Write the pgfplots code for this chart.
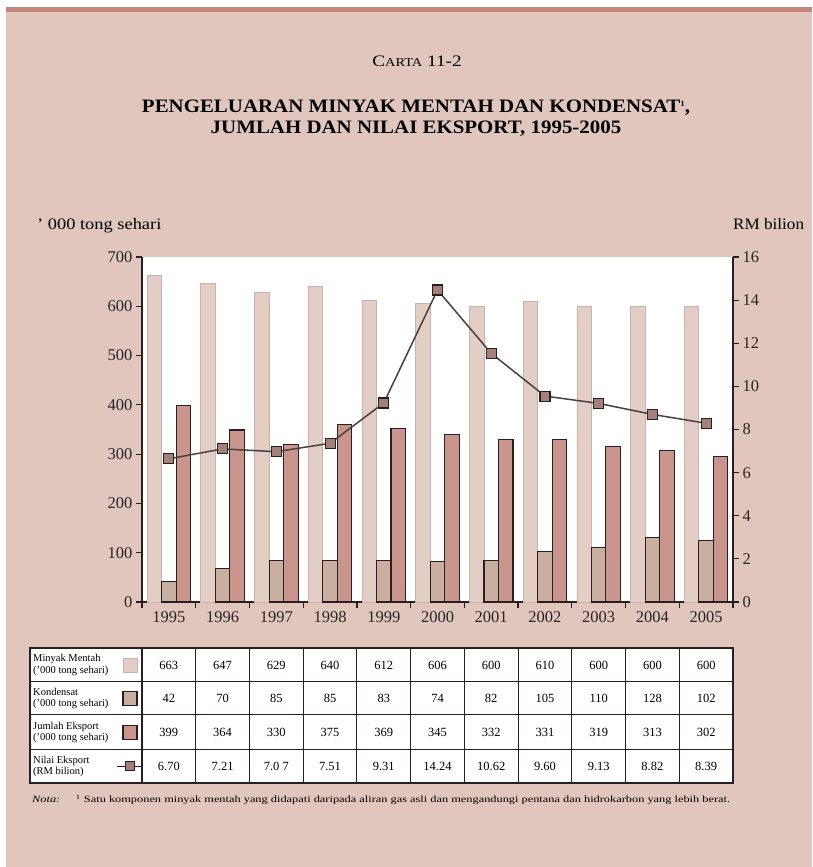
\documentclass[border=0pt]{standalone}
\usepackage{pgfplots}
\pgfplotsset{compat=1.18}
\usepackage{fontspec}
\setmainfont{Liberation Serif}
\definecolor{pagebg}{HTML}{E1C6BE}
\definecolor{stripc}{HTML}{C4877B}
\definecolor{lightbar}{HTML}{E3CEC6}
\definecolor{lightedge}{HTML}{CDB0A8}
\definecolor{kond}{HTML}{C8AF9F}
\definecolor{expc}{HTML}{C9958C}
\definecolor{markc}{HTML}{A57F79}
\definecolor{darkedge}{HTML}{2A1E1E}
\definecolor{linec}{HTML}{4A4040}
\begin{document}
\begin{tikzpicture}[x=1pt,y=1pt]
% page
\fill[white] (0,0) rectangle (812,867);
\fill[pagebg] (6,0) rectangle (812,860);
\fill[stripc] (6,855) rectangle (812,860);
% titles
\node[anchor=base, font=\fontsize{16}{18}\selectfont] at (417,800) {\scalebox{1.2}[1]{C{\fontsize{12}{13}\selectfont ARTA} 11-2}};
\node[anchor=base, font=\fontsize{19}{21}\selectfont\bfseries] at (416,754) {\scalebox{1.1}[1]{PENGELUARAN MINYAK MENTAH DAN KONDENSAT{\fontsize{8}{9}\selectfont\raisebox{6pt}{1}},}};
\node[anchor=base, font=\fontsize{19}{21}\selectfont\bfseries] at (416,733) {\scalebox{1.1}[1]{JUMLAH DAN NILAI EKSPORT, 1995-2005}};
% axis labels
\node[anchor=base west, font=\fontsize{16}{18}\selectfont, inner sep=0pt] at (37,637) {\scalebox{1.15}[1]{' 000 tong sehari}};
\node[anchor=base west, font=\fontsize{16}{18}\selectfont, inner sep=0pt] at (733,637) {\scalebox{1.07}[1]{RM bilion}};

\begin{axis}[at={(142pt,265pt)}, anchor=south west, width=591pt, height=345pt, scale only axis,
  xmin=-0.5, xmax=10.5, ymin=0, ymax=700,
  axis x line*=bottom, axis y line*=left,
  axis line style={darkedge, line width=1.2pt},
  axis background/.style={fill=white},
  xtick={0,...,10}, xticklabels={1995,1996,1997,1998,1999,2000,2001,2002,2003,2004,2005},
  major x tick style={draw=none},
  minor xtick={-0.5,0.5,...,10.5},
  ytick={0,100,...,700},
  tick align=outside, major tick length=6pt, minor tick length=6pt,
  tick style={darkedge, line width=1.2pt},
  /pgf/number format/assume math mode=true,
  tick label style={font=\fontsize{16.5}{18}\selectfont, text=black!85},
  clip=false]
\addplot[ybar, bar width=14.5pt, bar shift=-14.5pt, fill=lightbar, draw=lightedge, line width=0.8pt]
  coordinates {(0,663) (1,647) (2,629) (3,640) (4,612) (5,606) (6,600) (7,610) (8,600) (9,600) (10,600)};
\addplot[ybar, bar width=14.5pt, bar shift=0pt, fill=kond, draw=darkedge, line width=1.1pt]
  coordinates {(0,42) (1,68) (2,85) (3,85) (4,85) (5,82) (6,85) (7,102) (8,110) (9,130) (10,125)};
\addplot[ybar, bar width=14.5pt, bar shift=14.5pt, fill=expc, draw=darkedge, line width=1.1pt]
  coordinates {(0,398) (1,349) (2,320) (3,361) (4,352) (5,340) (6,329) (7,329) (8,316) (9,308) (10,296)};
\end{axis}

\begin{axis}[at={(142pt,265pt)}, anchor=south west, width=591pt, height=345pt, scale only axis,
  xmin=-0.5, xmax=10.5, ymin=0, ymax=16,
  axis x line=none, axis y line*=right,
  axis line style={darkedge, line width=1.2pt},
  ytick={0,2,...,16},
  tick align=outside, major tick length=6pt,
  tick style={darkedge, line width=1.2pt},
  /pgf/number format/assume math mode=true,
  tick label style={font=\fontsize{16.5}{18}\selectfont, text=black!85},
  clip=false]
\addplot[linec, line width=1.5pt, mark=square*, mark size=5pt, mark options={fill=markc, draw=darkedge, line width=1.1pt}]
  coordinates {(0,6.64) (1,7.10) (2,6.97) (3,7.36) (4,9.23) (5,14.47) (6,11.53) (7,9.55) (8,9.21) (9,8.70) (10,8.29)};
\end{axis}

% data table
\fill[white] (30,84) rectangle (733,219);
\foreach \yy in {185,152,117} { \draw[darkedge, line width=1pt] (30,\yy) -- (733,\yy); }
\foreach \k in {1,...,10} { \draw[darkedge, line width=1pt] ({142+\k*591/11},84) -- ({142+\k*591/11},219); }
\draw[darkedge, line width=1.6pt] (142,84) -- (142,219);
\draw[darkedge, line width=1.6pt] (30,84) rectangle (733,219);

\foreach \v [count=\i from 0] in {663,647,629,640,612,606,600,610,600,600,600}
  { \node[font=\fontsize{12.5}{13}\selectfont] at ({142+(\i+0.5)*591/11},202) {\v}; }
\foreach \v [count=\i from 0] in {42,70,85,85,83,74,82,105,110,128,102}
  { \node[font=\fontsize{12.5}{13}\selectfont] at ({142+(\i+0.5)*591/11},168.5) {\v}; }
\foreach \v [count=\i from 0] in {399,364,330,375,369,345,332,331,319,313,302}
  { \node[font=\fontsize{12.5}{13}\selectfont] at ({142+(\i+0.5)*591/11},134.5) {\v}; }
\foreach \v [count=\i from 0] in {6.70,7.21,7.0 7,7.51,9.31,14.24,10.62,9.60,9.13,8.82,8.39}
  { \node[font=\fontsize{12.5}{13}\selectfont] at ({142+(\i+0.5)*591/11},100.5) {\v}; }

\node[anchor=west, align=left, inner sep=0pt, font=\fontsize{10.5}{11.5}\selectfont] at (33,202) {Minyak Mentah\\('000 tong sehari)};
\node[anchor=west, align=left, inner sep=0pt, font=\fontsize{10.5}{11.5}\selectfont] at (33,168.5) {Kondensat\\('000 tong sehari)};
\node[anchor=west, align=left, inner sep=0pt, font=\fontsize{10.5}{11.5}\selectfont] at (33,134.5) {Jumlah Eksport\\('000 tong sehari)};
\node[anchor=west, align=left, inner sep=0pt, font=\fontsize{10.5}{11.5}\selectfont] at (33,100.5) {Nilai Eksport\\(RM bilion)};

% swatches
\filldraw[fill=lightbar, draw=lightedge, line width=0.8pt] (123,195) rectangle (137,209);
\filldraw[fill=kond, draw=darkedge, line width=1.1pt] (123,161.5) rectangle (137,175.5);
\filldraw[fill=expc, draw=darkedge, line width=1.1pt] (123,127.5) rectangle (137,141.5);
\draw[darkedge, line width=1.3pt] (117,100.5) -- (141,100.5);
\filldraw[fill=markc, draw=darkedge, line width=1pt] (125.5,96) rectangle (134.5,105);

% note
\node[anchor=base west, inner sep=0pt, font=\fontsize{9.5}{11}\selectfont] at (32,64) {\scalebox{1.3}[1]{\textit{Nota:}\hspace{12pt}\textsuperscript{1} Satu komponen minyak mentah yang didapati daripada aliran gas asli dan mengandungi pentana dan hidrokarbon yang lebih berat.}};
\end{tikzpicture}
\end{document}
